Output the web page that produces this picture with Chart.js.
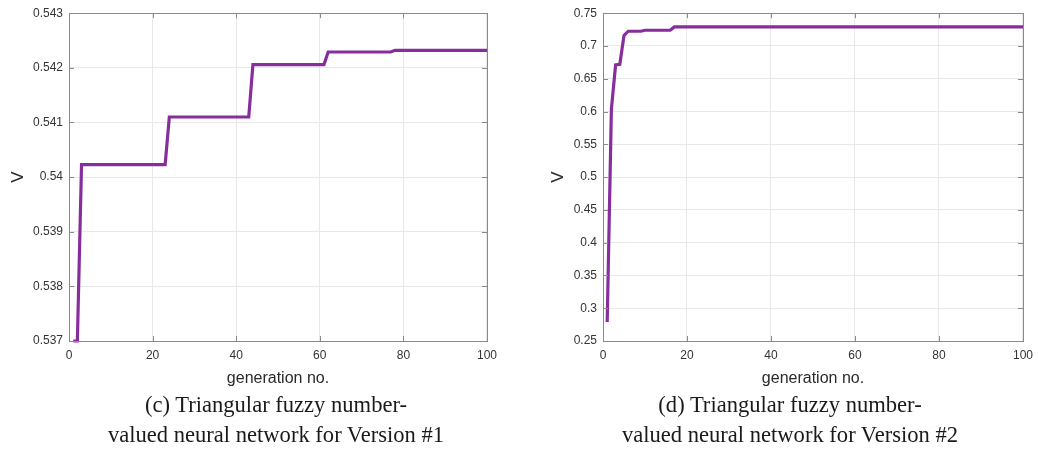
<!DOCTYPE html>
<html>
<head>
<meta charset="utf-8">
<script src="https://cdn.jsdelivr.net/npm/chart.js@4.4.1/dist/chart.umd.min.js"></script>
<style>
  html, body { margin: 0; padding: 0; background: #fff; }
  body { width: 1038px; height: 450px; position: relative; overflow: hidden; }
  .panel { position: absolute; top: 0; height: 400px; }
  .cap { position: absolute; font-family: "Liberation Serif", "Times New Roman", serif; font-size: 24px;
         color: #1a1a1a; white-space: nowrap; transform: scaleX(0.94); transform-origin: center center;
         text-align: center; line-height: 30px; }
</style>
</head>
<body>
<div class="panel" id="p1" style="left:0;width:504px;"><canvas id="c1"></canvas></div>
<div class="panel" id="p2" style="left:540px;width:500px;"><canvas id="c2"></canvas></div>
<div class="cap" id="cap1" style="left:76px;width:400px;top:389px;">(c) Triangular fuzzy number-<br>valued neural network for Version #1</div>
<div class="cap" id="cap2" style="left:590px;width:400px;top:389px;">(d) Triangular fuzzy number-<br>valued neural network for Version #2</div>
<script>
// ---- data ----
const gen1 = [1, 2, 3, 23, 24, 43, 44, 61, 62, 77, 78, 100];
const val1 = [0.537, 0.537, 0.54023, 0.54023, 0.5411, 0.5411, 0.54206, 0.54206, 0.54229, 0.54229, 0.54232, 0.54232];
const gen2 = [1, 2, 3, 4, 5, 6, 9, 10, 16, 17, 100];
const val2 = [0.279, 0.604, 0.671, 0.672, 0.716, 0.7225, 0.7225, 0.724, 0.724, 0.729, 0.729];
const xTicks = [0, 20, 40, 60, 80, 100];
const yRange1 = [0.537, 0.543, 0.001];
const yRange2 = [0.25, 0.75, 0.05];
const xLabel = 'generation no.';
const yLabel = 'V';

const LINE = '#862E9C';
const GRID = '#e8e8e8';
const BORDER = '#8a8a8a';
const TXT = '#333333';

const frame = {
  id: 'frame',
  afterDraw(chart) {
    const {ctx, chartArea: a, scales} = chart;
    ctx.save();
    ctx.strokeStyle = BORDER;
    ctx.lineWidth = 1;
    ctx.beginPath();
    const L = 5;
    scales.x.ticks.forEach(t => {
      const px = Math.round(scales.x.getPixelForValue(t.value)) + 0.5;
      ctx.moveTo(px, a.bottom); ctx.lineTo(px, a.bottom - L);
      ctx.moveTo(px, a.top); ctx.lineTo(px, a.top + L);
    });
    scales.y.ticks.forEach(t => {
      const py = Math.round(scales.y.getPixelForValue(t.value)) + 0.5;
      ctx.moveTo(a.left, py); ctx.lineTo(a.left + L, py);
      ctx.moveTo(a.right, py); ctx.lineTo(a.right - L, py);
    });
    ctx.stroke();
    ctx.strokeRect(Math.round(a.left) + 0.5, Math.round(a.top) + 0.5,
                   Math.round(a.right - a.left), Math.round(a.bottom - a.top));
    ctx.restore();
  }
};

function fmt(v) { return String(parseFloat(Number(v).toFixed(4))); }

function make(id, gens, vals, yr, yWidth, padTop) {
  const data = gens.map((g, i) => ({x: g, y: vals[i]}));
  return new Chart(document.getElementById(id), {
    type: 'line',
    data: { datasets: [{ data, borderColor: LINE, borderWidth: 3.2, pointRadius: 0,
                         tension: 0, fill: false, clip: 3, borderJoinStyle: 'miter' }] },
    options: {
      responsive: true, maintainAspectRatio: false, animation: false, devicePixelRatio: 1,
      layout: { padding: { top: padTop, right: 10, left: 0, bottom: 0 } },
      plugins: { legend: { display: false }, tooltip: { enabled: false } },
      scales: {
        x: {
          type: 'linear', min: xTicks[0], max: xTicks[xTicks.length - 1],
          afterBuildTicks(s) { s.ticks = xTicks.map(v => ({value: v})); },
          afterFit(s) { s.height = 59; },
          grid: { color: GRID, drawTicks: false },
          border: { display: false },
          ticks: { color: TXT, font: { family: 'Liberation Sans, Arial', size: 12 }, padding: 7,
                   maxRotation: 0, callback: v => fmt(v) },
          title: { display: true, text: xLabel, color: '#2a2a2a',
                   font: { family: 'Liberation Sans, Arial', size: 16 }, padding: { top: 0, bottom: 12 } }
        },
        y: {
          min: yr[0], max: yr[1],
          ticks: { stepSize: yr[2], color: TXT, font: { family: 'Liberation Sans, Arial', size: 12 },
                   padding: 6, callback: v => fmt(v) },
          afterFit(s) { s.width = yWidth; },
          grid: { color: GRID, drawTicks: false },
          border: { display: false },
          title: { display: true, text: yLabel, color: '#2a2a2a',
                   font: { family: 'Liberation Sans, Arial', size: 17 }, padding: { top: 8, bottom: 0 } }
        }
      }
    },
    plugins: [frame]
  });
}

make('c1', gen1, val1, yRange1, 69, 12);
make('c2', gen2, val2, yRange2, 63, 10);
</script>
</body>
</html>
